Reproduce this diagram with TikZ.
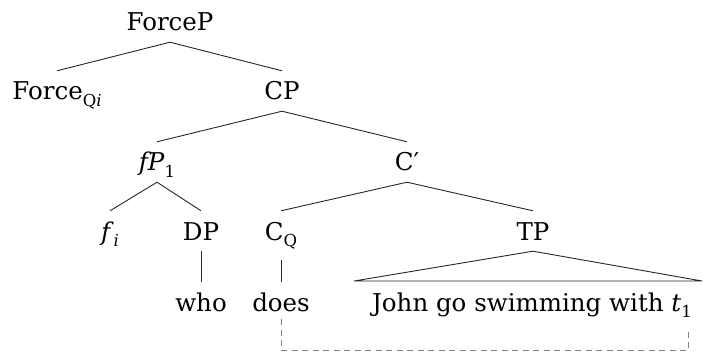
\documentclass[tikz,border=0pt]{standalone}
\usepackage{fontspec}
\setmainfont{DejaVu Serif}
\newcommand\lsub[1]{\raisebox{-0.25em}{\fontsize{16.5}{18}\selectfont #1}}
\tikzset{
  lab/.style={anchor=base, inner xsep=0pt, inner ysep=11pt, text height=18pt, text depth=0pt,
              font=\fontsize{24.5}{28}\selectfont, text=black},
  edge/.style={line width=0.9pt, draw=black!85},
  movedash/.style={line width=0.9pt, draw=black!50, dash pattern=on 6pt off 4.5pt}
}
\begin{document}
\begin{tikzpicture}[x=1pt,y=-1pt]
\useasboundingbox (0,0) rectangle (703,358);
% level 1
\node[lab] (forcep) at (170,31) {ForceP};
% level 2
\node[lab] (force) at (57,100) {Force\lsub{Q\textit{i}}};
\node[lab] (cp) at (282,100) {CP};
% level 3
\node[lab] (fp) at (157,171) {\textit{fP}\lsub{1}};
\node[lab] (cbar) at (407,171) {C′};
% level 4
\node[lab] (f) at (110,240) {\textit{f}\lsub{\textit{i}}};
\node[lab] (dp) at (201,240) {DP};
\node[lab, text depth=9pt] (cq) at (281,240) {C\lsub{Q}};
\node[lab] (tp) at (533,240) {TP};
% level 5
\node[lab] (who) at (201,311) {who};
\node[lab] (does) at (281,311) {does};
\node[lab] (john) at (532,311) {John go swimming with \textit{t}\lsub{1}};
\coordinate (tl) at (354,281);
\coordinate (tr) at (702,281);
\coordinate (trace) at (688,330);
% edges
\draw[edge] (forcep.south) -- (force.north);
\draw[edge] (forcep.south) -- (cp.north);
\draw[edge] (cp.south) -- (fp.north);
\draw[edge] (cp.south) -- (cbar.north);
\draw[edge] (fp.south) -- (f.north);
\draw[edge] (fp.south) -- (dp.north);
\draw[edge] (cbar.south) -- (cq.north);
\draw[edge] (cbar.south) -- (tp.north);
\draw[edge] (dp.south) -- (who.north);
\draw[edge] (cq.south) -- (does.north);
\draw[edge] (tp.south) -- (tl) -- (tr) -- cycle;
% movement
\draw[movedash] ([yshift=3pt]does.south) -- ++(0,31.5) -| (trace);
\end{tikzpicture}
\end{document}
